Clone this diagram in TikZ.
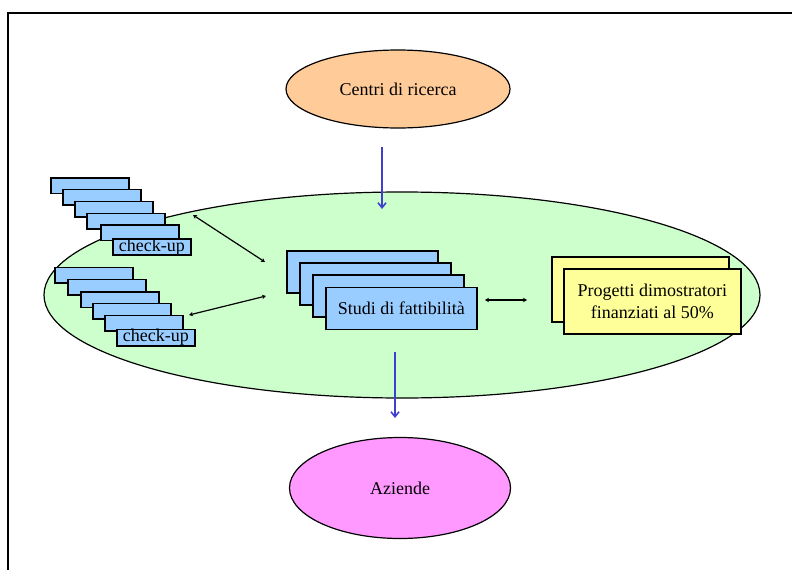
\documentclass[tikz,border=0pt]{standalone}
\usepackage{fontspec}
\setmainfont{Liberation Serif}
\usetikzlibrary{shapes.geometric,arrows.meta}
\definecolor{cgreen}{HTML}{CCFFCC}
\definecolor{corange}{HTML}{FFCC99}
\definecolor{cpink}{HTML}{FF99FF}
\definecolor{cblue}{HTML}{99CCFF}
\definecolor{cyellow}{HTML}{FFFF99}
\definecolor{carrow}{HTML}{4040D0}
\tikzset{
  txt/.style={font=\fontsize{18}{22}\selectfont},
  oval/.style={ellipse, draw=black, line width=1.2pt, inner sep=0pt, txt},
  bluebox/.style={rectangle, draw=black, line width=1.7pt, fill=cblue, inner sep=0pt, anchor=north west, txt},
  yellowbox/.style={rectangle, draw=black, line width=1.7pt, fill=cyellow, inner sep=0pt, anchor=north west, txt, align=center},
  small/.style={bluebox, minimum width=78pt, minimum height=15.5pt},
  studibox/.style={bluebox, minimum width=151pt, minimum height=42pt},
  progbox/.style={yellowbox, minimum width=177pt, minimum height=65pt},
  blk/.style={line width=1.2pt, {Stealth[length=4pt,width=4.5pt]}-{Stealth[length=4pt,width=4.5pt]}},
  blu/.style={draw=carrow, line width=1.6pt, -{Straight Barb[length=5pt,width=8pt]}},
}
\begin{document}
\begin{tikzpicture}[x=1pt,y=-1pt]
\useasboundingbox (0,0) rectangle (792,570);
\draw[line width=1.8pt] (8,570) -- (8,13) -- (792,13);

\node[oval, fill=cgreen, minimum width=716pt, minimum height=206pt] (field) at (402,295) {};
\node[oval, fill=corange, minimum width=224pt, minimum height=78pt] (centri) at (398,89) {Centri di ricerca};
\node[oval, fill=cpink, minimum width=221pt, minimum height=101pt] (aziende) at (400,488) {Aziende};

% top check-up stack
\node[small] (a1) at (50,177) {};
\node[small] (a2) at (62,188.5) {};
\node[small] (a3) at (74,200.5) {};
\node[small] (a4) at (86,212.5) {};
\node[small] (a5) at (100,224) {};
\node[small] (a6) at (112,238) {check-up};

% bottom check-up stack
\node[small] (b1) at (54,266.5) {};
\node[small] (b2) at (67,278.5) {};
\node[small] (b3) at (80,291) {};
\node[small] (b4) at (92,302.5) {};
\node[small] (b5) at (104,314.5) {};
\node[small] (b6) at (116,328.5) {check-up};

% studi stack
\node[studibox] (s1) at (286,250) {};
\node[studibox] (s2) at (299,262) {};
\node[studibox] (s3) at (312,274) {};
\node[studibox] (s4) at (325,286.5) {Studi di fattibilità};

% progetti stack
\node[progbox] (p1) at (551,256) {};
\node[progbox] (p2) at (563,268) {Progetti dimostratori\\finanziati al 50\%};

% connectors
\coordinate (ta) at (193,215);
\coordinate (tb) at (265,262);
\coordinate (ba) at (189,315);
\coordinate (bb) at (266,296);
\coordinate (ma) at (485,300);
\coordinate (mb) at (527,300);
\draw[blk] (ta) -- (tb);
\draw[blk] (ba) -- (bb);
\draw[blk] (ma) -- (mb);

\coordinate (u1) at (382,147);
\coordinate (u2) at (382,209);
\coordinate (d1) at (395,352);
\coordinate (d2) at (395,418);
\draw[blu] (u1) -- (u2);
\draw[blu] (d1) -- (d2);
\end{tikzpicture}
\end{document}
